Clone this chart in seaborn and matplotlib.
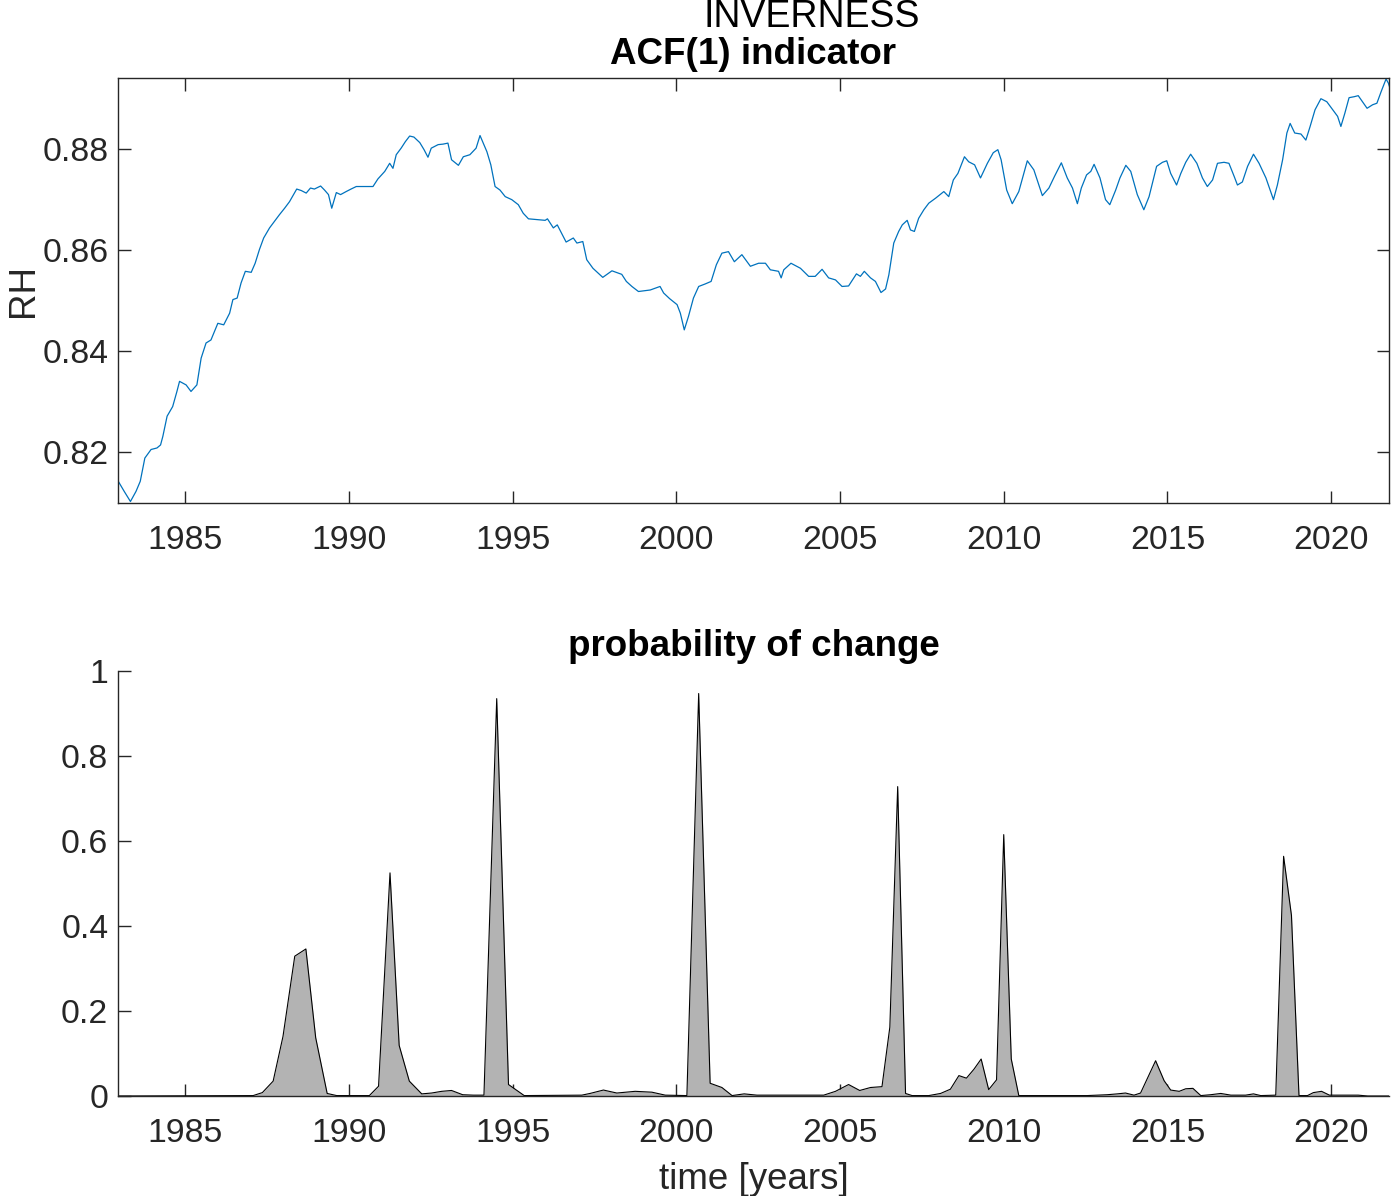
import matplotlib
matplotlib.use("Agg")
import matplotlib.pyplot as plt
import seaborn as sns
import pandas as pd

# ---------------- data ----------------
acf_years = [1982.93, 1983.13, 1983.32, 1983.49, 1983.62, 1983.76, 1983.95, 1984.13, 1984.24, 1984.31,
             1984.44, 1984.61, 1984.74, 1984.82, 1985.02, 1985.17, 1985.35, 1985.48, 1985.63, 1985.78,
             1985.99, 1986.17, 1986.35, 1986.45, 1986.58, 1986.70, 1986.83, 1987.01, 1987.13, 1987.26,
             1987.39, 1987.57, 1987.72, 1987.87, 1988.03, 1988.18, 1988.33, 1988.40, 1988.54, 1988.69,
             1988.82, 1988.94, 1989.13, 1989.25, 1989.37, 1989.47, 1989.61, 1989.74, 1989.91, 1990.06,
             1990.22, 1990.47, 1990.73, 1990.88, 1991.09, 1991.24, 1991.34, 1991.44, 1991.59, 1991.72,
             1991.85, 1991.98, 1992.16, 1992.29, 1992.41, 1992.51, 1992.72, 1992.87, 1993.02,
             1993.13, 1993.34, 1993.49, 1993.69, 1993.88, 1994.00, 1994.21, 1994.33, 1994.46, 1994.61,
             1994.77, 1994.97, 1995.17, 1995.32, 1995.48, 1995.99, 1996.06, 1996.24, 1996.36, 1996.63,
             1996.85, 1996.96, 1997.14, 1997.26, 1997.45, 1997.75, 1998.03, 1998.33, 1998.47, 1998.64,
             1998.84, 1999.20, 1999.50, 1999.61, 1999.79, 2000.02, 2000.12, 2000.24, 2000.37, 2000.52,
             2000.68, 2000.88, 2001.06, 2001.22, 2001.39, 2001.59, 2001.77, 2002.00, 2002.26, 2002.51,
             2002.72, 2002.87,
             2003.12, 2003.20, 2003.28, 2003.50, 2003.79, 2004.04, 2004.24, 2004.45, 2004.65, 2004.86,
             2005.06, 2005.26, 2005.50, 2005.62, 2005.74, 2005.93, 2006.08, 2006.25, 2006.39, 2006.49,
             2006.64, 2006.79, 2006.90, 2007.05, 2007.15, 2007.27, 2007.40, 2007.56, 2007.71, 2007.92,
             2008.17, 2008.32, 2008.46, 2008.60, 2008.80, 2008.93, 2009.11, 2009.29, 2009.50, 2009.68,
             2009.82, 2009.92, 2010.09, 2010.26, 2010.46, 2010.72, 2010.92, 2011.18, 2011.38, 2011.55,
             2011.76, 2011.94, 2012.10, 2012.25, 2012.37, 2012.53, 2012.66,
             2012.76, 2012.94, 2013.11, 2013.24, 2013.42, 2013.55, 2013.73, 2013.88, 2014.08, 2014.28,
             2014.44, 2014.67, 2014.85, 2014.98, 2015.10, 2015.28, 2015.41, 2015.56, 2015.71, 2015.90,
             2016.07, 2016.22, 2016.38, 2016.53, 2016.73, 2016.88, 2017.04, 2017.14, 2017.29, 2017.45,
             2017.63, 2017.80, 2018.01, 2018.14, 2018.24, 2018.36, 2018.52, 2018.65, 2018.75, 2018.89,
             2019.08, 2019.23, 2019.36, 2019.51, 2019.69, 2019.87, 2020.05, 2020.20, 2020.30, 2020.42,
             2020.55, 2020.71, 2020.83, 2020.96, 2021.10, 2021.27, 2021.40, 2021.53, 2021.68, 2021.75,
             2021.82]

acf_values = [0.8144, 0.8122, 0.8102, 0.8122, 0.8142, 0.8188, 0.8205, 0.8208, 0.8214, 0.8231,
              0.8271, 0.8290, 0.8320, 0.8340, 0.8333, 0.8320, 0.8333, 0.8386, 0.8416, 0.8422,
              0.8455, 0.8452, 0.8475, 0.8502, 0.8505, 0.8535, 0.8558, 0.8556, 0.8574, 0.8601,
              0.8624, 0.8644, 0.8657, 0.8670, 0.8683, 0.8696, 0.8713, 0.8721, 0.8718, 0.8713,
              0.8723, 0.8721, 0.8727, 0.8719, 0.8710, 0.8683, 0.8714, 0.8710, 0.8716, 0.8721,
              0.8726, 0.8726, 0.8726, 0.8741, 0.8756, 0.8772, 0.8762, 0.8789, 0.8802, 0.8815,
              0.8826, 0.8824, 0.8813, 0.8799, 0.8784, 0.8802, 0.8809, 0.8810, 0.8812,
              0.8779, 0.8768, 0.8785, 0.8789, 0.8802, 0.8827, 0.8795, 0.8769, 0.8726, 0.8719,
              0.8706, 0.8700, 0.8690, 0.8673, 0.8662, 0.8659, 0.8662, 0.8644, 0.8650, 0.8616,
              0.8624, 0.8614, 0.8617, 0.8581, 0.8564, 0.8546, 0.8559, 0.8552, 0.8538, 0.8528,
              0.8518, 0.8521, 0.8528, 0.8515, 0.8504, 0.8492, 0.8475, 0.8442, 0.8469, 0.8505,
              0.8528, 0.8533, 0.8538, 0.8571, 0.8594, 0.8597, 0.8577, 0.8591, 0.8568, 0.8574,
              0.8574, 0.8561,
              0.8558, 0.8545, 0.8561, 0.8574, 0.8564, 0.8548, 0.8548, 0.8562, 0.8545, 0.8541,
              0.8528, 0.8529, 0.8553, 0.8548, 0.8558, 0.8545, 0.8538, 0.8516, 0.8523, 0.8551,
              0.8614, 0.8637, 0.8650, 0.8659, 0.8640, 0.8637, 0.8663, 0.8680, 0.8693, 0.8703,
              0.8716, 0.8706, 0.8739, 0.8752, 0.8785, 0.8775, 0.8769, 0.8743, 0.8772, 0.8793,
              0.8799, 0.8779, 0.8719, 0.8692, 0.8716, 0.8777, 0.8759, 0.8708, 0.8723, 0.8746,
              0.8773, 0.8743, 0.8723, 0.8692, 0.8723, 0.8749, 0.8756,
              0.8770, 0.8743, 0.8700, 0.8690, 0.8719, 0.8743, 0.8768, 0.8756, 0.8710, 0.8680,
              0.8706, 0.8766, 0.8774, 0.8777, 0.8752, 0.8729, 0.8752, 0.8774, 0.8790, 0.8772,
              0.8743, 0.8726, 0.8739, 0.8772, 0.8774, 0.8772, 0.8746, 0.8729, 0.8735, 0.8766,
              0.8790, 0.8772, 0.8743, 0.8719, 0.8700, 0.8729, 0.8779, 0.8832, 0.8851, 0.8832,
              0.8830, 0.8818, 0.8845, 0.8878, 0.8900, 0.8894, 0.8878, 0.8865, 0.8845, 0.8871,
              0.8902, 0.8904, 0.8906, 0.8894, 0.8881, 0.8888, 0.8891, 0.8914, 0.8939, 0.8931,
              0.8917]

prob_years = [1982.94, 1987.07, 1987.35, 1987.68, 1987.98, 1988.34, 1988.68, 1988.98, 1989.33, 1989.62,
              1990.62, 1990.90, 1991.25, 1991.53, 1991.84, 1992.22, 1992.52, 1992.83, 1993.13, 1993.47,
              1993.80, 1994.12, 1994.51, 1994.87, 1995.35, 1997.11, 1997.36, 1997.77, 1998.18, 1998.74,
              1999.25, 1999.66, 2000.32, 2000.68, 2001.03, 2001.39, 2001.70, 2002.07, 2002.46, 2003.58,
              2004.50, 2004.86, 2005.26, 2005.60, 2005.93, 2006.28, 2006.52, 2006.76, 2007.00, 2007.20,
              2007.71, 2008.07, 2008.37, 2008.63, 2008.86, 2009.09, 2009.31, 2009.54, 2009.78, 2010.00,
              2010.23, 2010.46, 2012.55, 2013.16, 2013.47, 2013.72, 2013.98, 2014.18, 2014.64, 2014.90,
              2015.10, 2015.36, 2015.56, 2015.78, 2016.02, 2016.32, 2016.63, 2016.94, 2017.39, 2017.63,
              2017.85, 2018.31, 2018.55, 2018.79, 2019.02, 2019.28, 2019.46, 2019.71, 2019.95, 2020.31,
              2020.83, 2021.12, 2021.80]
prob_values = [0.0, 0.001, 0.008, 0.035, 0.140, 0.329, 0.346, 0.137, 0.006, 0.001,
               0.001, 0.023, 0.525, 0.119, 0.035, 0.005, 0.007, 0.011, 0.013, 0.003,
               0.002, 0.002, 0.935, 0.027, 0.001, 0.002, 0.006, 0.014, 0.007, 0.011,
               0.009, 0.002, 0.001, 0.947, 0.030, 0.020, 0.001, 0.005, 0.002, 0.002,
               0.002, 0.011, 0.027, 0.013, 0.020, 0.022, 0.162, 0.728, 0.006, 0.001,
               0.001, 0.006, 0.016, 0.048, 0.042, 0.063, 0.087, 0.015, 0.038, 0.615,
               0.087, 0.001, 0.001, 0.003, 0.005, 0.007, 0.002, 0.007, 0.083, 0.036,
               0.014, 0.011, 0.017, 0.018, 0.001, 0.003, 0.006, 0.002, 0.002, 0.005,
               0.001, 0.002, 0.564, 0.425, 0.001, 0.001, 0.008, 0.011, 0.002, 0.002,
               0.002, 0.0, 0.0]

year_ticks = [1985, 1990, 1995, 2000, 2005, 2010, 2015, 2020]
acf_ticks = [0.82, 0.84, 0.86, 0.88]
prob_ticks = [0, 0.2, 0.4, 0.6, 0.8, 1]
prob_tick_labels = ["0", "0.2", "0.4", "0.6", "0.8", "1"]

suptitle_text = "INVERNESS"
top_title = "ACF(1) indicator"
top_ylabel = "RH"
bottom_title = "probability of change"
bottom_xlabel = "time [years]"

# ---------------- style ----------------
sns.set_theme(style="ticks")
plt.rcParams["font.family"] = ["Liberation Sans", "DejaVu Sans"]
axis_col = "#262626"
plt.rcParams.update({
    "axes.edgecolor": axis_col,
    "axes.linewidth": 1.0,
    "xtick.color": axis_col,
    "ytick.color": axis_col,
    "xtick.labelcolor": axis_col,
    "ytick.labelcolor": axis_col,
    "text.color": "black",
    "axes.labelcolor": axis_col,
})

W, H = 1391, 1196
fig = plt.figure(figsize=(W / 100, H / 100), dpi=100)
left = 118 / W
width = (1389 - 118) / W
ax1 = fig.add_axes([left, 1 - 503 / H, width, 425 / H])
ax2 = fig.add_axes([left, 1 - 1096 / H, width, 425 / H])

xlim = (1982.94, 2021.77)
tick_fs = 24.3
title_fs = 26.5

# --- top panel ---
df_acf = pd.DataFrame({"year": acf_years, "acf": acf_values})
sns.lineplot(data=df_acf, x="year", y="acf", ax=ax1, color="#0072BD", linewidth=0.9)
ax1.set_xlim(*xlim)
ax1.set_ylim(0.8099, 0.8941)
ax1.set_xticks(year_ticks)
ax1.set_yticks(acf_ticks)
ax1.set_yticklabels([f"{v:.2f}" for v in acf_ticks])
ax1.tick_params(direction="in", length=9, width=1.0, labelsize=tick_fs,
                top=True, right=True)
ax1.tick_params(axis="x", pad=16)
ax1.tick_params(axis="y", pad=7)
ax1.set_xlabel("")
ax1.set_ylabel(top_ylabel, fontsize=title_fs, color=axis_col)
ax1.yaxis.set_label_coords((41 - 118) / (1389 - 118), 0.5)
ax1.set_title(top_title, fontsize=title_fs, fontweight="bold", pad=10)
for s in ax1.spines.values():
    s.set_visible(True)

# --- bottom panel ---
df_prob = pd.DataFrame({"year": prob_years, "prob": prob_values})
ax2.fill_between(df_prob["year"], 0, df_prob["prob"], color="#b3b3b3", linewidth=0)
sns.lineplot(data=df_prob, x="year", y="prob", ax=ax2, color="black", linewidth=0.8)
ax2.set_xlim(*xlim)
ax2.set_ylim(0, 1)
ax2.set_xticks(year_ticks)
ax2.set_yticks(prob_ticks)
ax2.set_yticklabels(prob_tick_labels)
ax2.tick_params(direction="in", length=9, width=1.0, labelsize=tick_fs)
ax2.tick_params(axis="x", pad=16)
ax2.tick_params(axis="y", pad=7)
ax2.spines["top"].set_visible(False)
ax2.spines["right"].set_visible(False)
ax2.set_ylabel("")
ax2.set_xlabel(bottom_xlabel, fontsize=title_fs, labelpad=9, color=axis_col)
ax2.set_title(bottom_title, fontsize=title_fs, fontweight="bold", pad=11)

fig.text(811.5 / W, 1 - 27 / H, suptitle_text, fontsize=27, ha="center", va="baseline")

fig.savefig("out.png", dpi=100)
